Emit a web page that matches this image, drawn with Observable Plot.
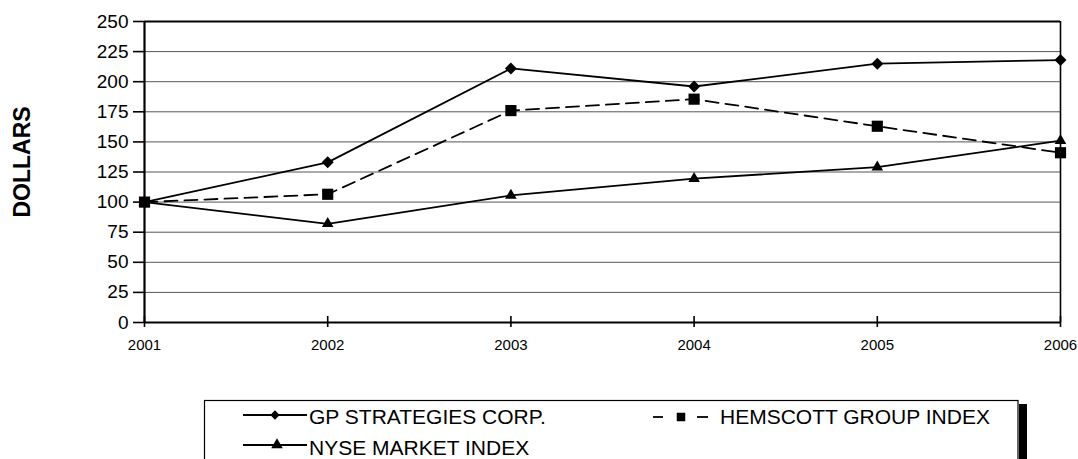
<!DOCTYPE html>
<html>
<head>
<meta charset="utf-8">
<script src="https://cdn.jsdelivr.net/npm/d3@7"></script>
<script src="https://cdn.jsdelivr.net/npm/@observablehq/plot@0.6"></script>
<style>
  body { margin: 0; background: #fff; font-family: "Liberation Sans", Arial, sans-serif; }
  #wrap { position: relative; width: 1078px; height: 459px; overflow: hidden; background: #fff; }
  #chart { position: absolute; left: 0; top: 0; }
  #legend { position: absolute; left: 0; top: 380px; }
</style>
</head>
<body>
<div id="wrap">
  <div id="chart"></div>
  <svg id="legend" width="1078" height="79"></svg>
</div>
<script>
const years = [2001, 2002, 2003, 2004, 2005, 2006];
const seriesNames = ["GP STRATEGIES CORP.", "HEMSCOTT GROUP INDEX", "NYSE MARKET INDEX"];
const gpValues = [100, 133, 211, 196, 215, 218];
const hemscottValues = [100, 106.5, 176, 185.5, 163, 141];
const nyseValues = [100, 82, 105.5, 119.5, 129, 151];
const yTicks = [0, 25, 50, 75, 100, 125, 150, 175, 200, 225, 250];
const yLabel = "DOLLARS";

const toRows = (vals, name) => years.map((yr, i) => ({year: yr, value: vals[i], series: name}));
const gp = toRows(gpValues, seriesNames[0]);
const hem = toRows(hemscottValues, seriesNames[1]);
const nyse = toRows(nyseValues, seriesNames[2]);

const font = "Liberation Sans, Arial, sans-serif";

const chart = Plot.plot({
  width: 1078,
  height: 380,
  marginLeft: 144,
  marginRight: 18,
  marginTop: 21,
  marginBottom: 58,
  style: {fontFamily: font, background: "white", color: "black", overflow: "visible"},
  x: {domain: [2001, 2006]},
  y: {domain: [0, 250]},
  marks: [
    Plot.ruleY(yTicks.filter(d => d > 0 && d < 250), {stroke: "#555", strokeWidth: 1}),
    Plot.ruleY([250], {stroke: "#000", strokeWidth: 2}),
    Plot.ruleX([2006], {stroke: "#000", strokeWidth: 1.6}),
    Plot.ruleX([2001], {stroke: "#000", strokeWidth: 2.2}),
    Plot.ruleY([0], {stroke: "#000", strokeWidth: 2.2}),
    Plot.axisY({ticks: yTicks, tickSize: 11, tickPadding: 5, fontSize: 19, label: null,
      tickFormat: d => String(d), strokeWidth: 1.6}),
    Plot.axisX({ticks: years, tickSize: 5, tickPadding: 12, fontSize: 15, label: null,
      tickFormat: d => String(d), strokeWidth: 1.6}),
    Plot.ruleX(years, {x: d => d, y1: 0, y2: 0, insetTop: -6, stroke: "#000", strokeWidth: 1.6}),
    Plot.text([yLabel], {text: d => d, frameAnchor: "left", textAnchor: "middle", lineAnchor: "middle",
      rotate: -90, dx: -122, dy: -10, fontSize: 23, fontWeight: "bold", fill: "#000"}),
    Plot.line(gp, {x: "year", y: "value", stroke: "#000", strokeWidth: 1.8}),
    Plot.line(hem, {x: "year", y: "value", stroke: "#000", strokeWidth: 1.8, strokeDasharray: "13,7"}),
    Plot.line(nyse, {x: "year", y: "value", stroke: "#000", strokeWidth: 1.8}),
    Plot.dot(gp, {x: "year", y: "value", symbol: "diamond2", r: 5.4, fill: "#000", stroke: "none"}),
    Plot.dot(hem, {x: "year", y: "value", symbol: "square", r: 6.3, fill: "#000", stroke: "none"}),
    Plot.dot(nyse, {x: "year", y: "value", symbol: "triangle", r: 4.3, fill: "#000", stroke: "none"})
  ]
});
document.getElementById("chart").appendChild(chart);

// Legend (hand-built, below the chart SVG)
const lg = d3.select("#legend");
lg.append("rect").attr("x", 1019).attr("y", 24).attr("width", 8).attr("height", 80).attr("fill", "#000");
lg.append("rect").attr("x", 204.5).attr("y", 20.5).attr("width", 813.5).attr("height", 100)
  .attr("fill", "#fff").attr("stroke", "#000").attr("stroke-width", 1.2);

function symbolPath(type, r) {
  return d3.symbol(type, Math.PI * r * r)();
}
const items = [
  {name: seriesNames[0], lx1: 243, lx2: 307, mx: 275, ly: 35, ty: 43.5, tx: 309, sym: d3.symbolDiamond2, r: 4.2, dash: false},
  {name: seriesNames[1], lx1: 653, lx2: 708, mx: 681, ly: 37, ty: 43.5, tx: 720, sym: d3.symbolSquare, r: 4.8, dash: true},
  {name: seriesNames[2], lx1: 243, lx2: 307, mx: 277, ly: 65, ty: 75, tx: 309, sym: d3.symbolTriangle, r: 4.3, dash: false}
];
for (const it of items) {
  if (it.dash) {
    lg.append("line").attr("x1", it.lx1).attr("x2", it.lx1 + 10).attr("y1", it.ly).attr("y2", it.ly)
      .attr("stroke", "#000").attr("stroke-width", 1.8);
    lg.append("line").attr("x1", it.lx2 - 11).attr("x2", it.lx2).attr("y1", it.ly).attr("y2", it.ly)
      .attr("stroke", "#000").attr("stroke-width", 1.8);
  } else {
    lg.append("line").attr("x1", it.lx1).attr("x2", it.lx2).attr("y1", it.ly).attr("y2", it.ly)
      .attr("stroke", "#000").attr("stroke-width", 1.8);
  }
  lg.append("path").attr("d", symbolPath(it.sym, it.r)).attr("transform", `translate(${it.mx},${it.ly})`)
    .attr("fill", "#000");
  lg.append("text").attr("x", it.tx).attr("y", it.ty).attr("font-family", font).attr("font-size", 21)
    .attr("fill", "#000").text(it.name);
}
</script>
</body>
</html>
